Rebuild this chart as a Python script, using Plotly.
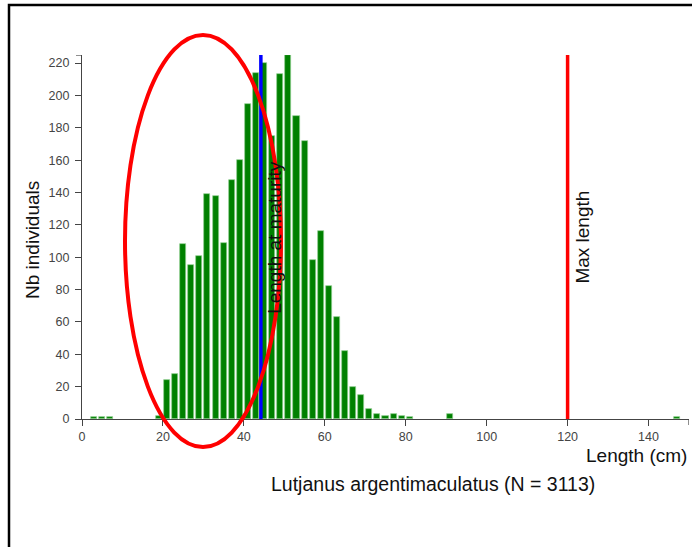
import plotly.graph_objects as go

# Length classes (bin centres, cm) and counts
length_cm = [3, 5, 7, 19, 21, 23, 25, 27, 29, 31, 33, 35, 37, 39, 41, 43, 45, 47, 49, 51,
             53, 55, 57, 59, 61, 63, 65, 67, 69, 71, 73, 75, 77, 79, 81, 91, 147]
counts = [1, 1, 1, 2, 24, 28, 108, 95, 101, 139, 138, 109, 148, 160, 195, 214, 220, 175, 213, 225,
          187, 172, 98, 116, 82, 63, 42, 20, 15, 6, 3, 2, 3, 2, 1, 3, 1]

length_at_maturity = 44.2
max_length = 120
species = "Lutjanus argentimaculatus"
x_ticks = [0, 20, 40, 60, 80, 100, 120, 140]
y_ticks = [0, 20, 40, 60, 80, 100, 120, 140, 160, 180, 200, 220]

FONT = "Liberation Sans, Arial, sans-serif"
ymax = max(counts)
W, H = 692, 547
L, R, T, B = 82, 3, 55, 128
pw, ph = W - L - R, H - T - B


def px(xp):
    return (xp - L) / pw


def py(yp):
    return (H - B - yp) / ph


fig = go.Figure()
fig.add_trace(go.Bar(x=length_cm, y=counts, width=1.5,
                     marker=dict(color="#008000", line=dict(color="#8fcf8f", width=0.7)),
                     hoverinfo="x+y"))
fig.add_trace(go.Scatter(x=[length_at_maturity, length_at_maturity], y=[0, ymax], mode="lines",
                         line=dict(color="#0000ff", width=3.5), hoverinfo="skip"))
fig.add_trace(go.Scatter(x=[max_length, max_length], y=[0, ymax], mode="lines",
                         line=dict(color="#ff0000", width=3.5), hoverinfo="skip"))

annotations = [
    dict(x=length_at_maturity, y=0.5, xref="x", yref="paper", text="Length at maturity",
         textangle=-90, showarrow=False, xanchor="center", yanchor="middle", xshift=13,
         font=dict(family=FONT, size=19, color="#111")),
    dict(x=max_length, y=0.5, xref="x", yref="paper", text="Max length",
         textangle=-90, showarrow=False, xanchor="center", yanchor="middle", xshift=14,
         font=dict(family=FONT, size=19, color="#111")),
    dict(x=px(32), y=py(240), xref="paper", yref="paper", text="Nb individuals",
         textangle=-90, showarrow=False, xanchor="center", yanchor="middle",
         font=dict(family=FONT, size=19, color="#111")),
    dict(x=1.0, y=py(455), xref="paper", yref="paper", text="Length (cm)",
         showarrow=False, xanchor="right", yanchor="middle",
         font=dict(family=FONT, size=19, color="#111")),
    dict(x=px(433), y=py(484), xref="paper", yref="paper",
         text=f"{species} (N = {sum(counts)})",
         showarrow=False, xanchor="center", yanchor="middle",
         font=dict(family=FONT, size=19.5, color="#111")),
]

shapes = [
    # outer frame
    dict(type="rect", xref="paper", yref="paper", x0=px(9), x1=px(720), y0=py(600), y1=py(5),
         line=dict(color="black", width=2.5), fillcolor="rgba(0,0,0,0)", layer="above"),
    # axis end caps
    dict(type="line", xref="paper", yref="y", x0=-6 / pw, x1=0, y0=225, y1=225,
         line=dict(color="#444", width=1.2)),
    dict(type="line", xref="x", yref="paper", x0=150, x1=150, y0=0, y1=-6 / ph,
         line=dict(color="#444", width=1.2)),
    # red hand-drawn ellipse
    dict(type="circle", xref="paper", yref="paper", x0=px(125), x1=px(281), y0=py(447), y1=py(35),
         line=dict(color="#ff0000", width=4), layer="above"),
]

fig.update_layout(
    width=W, height=H, margin=dict(l=L, r=R, t=T, b=B),
    paper_bgcolor="white", plot_bgcolor="white", showlegend=False,
    bargap=0, annotations=annotations, shapes=shapes,
    font=dict(family=FONT),
)
fig.update_xaxes(range=[0, 150], tickvals=x_ticks, ticks="outside", ticklen=6, tickcolor="#444",
                 showline=True, linecolor="#444", linewidth=1.2, showgrid=False, zeroline=False,
                 tickfont=dict(family=FONT, size=12.5, color="#444"))
fig.update_yaxes(range=[0, 225], tickvals=y_ticks, ticks="outside", ticklen=6, tickcolor="#444",
                 showline=True, linecolor="#444", linewidth=1.2, showgrid=False, zeroline=False,
                 ticklabelstandoff=3,
                 tickfont=dict(family=FONT, size=12.5, color="#444"))

fig.write_html("out.html")
